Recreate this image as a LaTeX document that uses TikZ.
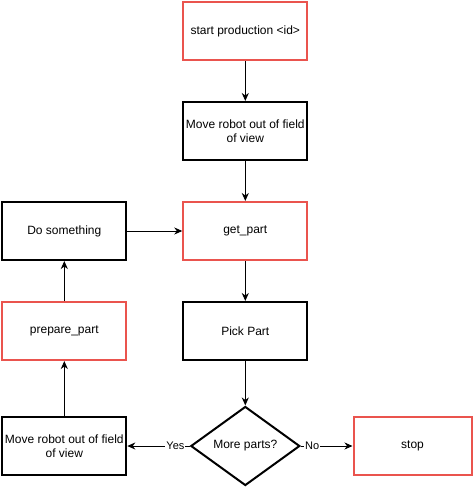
\documentclass[tikz,border=0pt]{standalone}
\usepackage{fontspec}
\setmainfont{Liberation Sans}
\usetikzlibrary{arrows.meta,shapes.geometric}
\definecolor{softred}{RGB}{234,84,78}

\begin{document}
\begin{tikzpicture}[x=1pt,y=-1pt,
  font=\fontsize{12}{14}\selectfont,
  box/.style={draw=black,line width=2pt,minimum width=124pt,minimum height=58pt,align=center,inner sep=2pt},
  redbox/.style={box,draw=softred},
  decision/.style={draw=black,line width=2pt,diamond,aspect=1.375,minimum width=109pt,minimum height=79pt,inner sep=0pt},
  flow/.style={-{Stealth[length=8pt,width=7pt,inset=2.5pt]},line width=1pt},
  lbl/.style={fill=white,inner sep=1pt,font=\fontsize{11}{13}\selectfont}]
  \useasboundingbox (0,0) rectangle (473,487);
  % main column
  \node[redbox] (start) at (245.3,31.5) {start production <id>};
  \node[box] (clear1) at (245.3,131) {Move robot out of field\\of view};
  \node[redbox] (getpart) at (245.3,231) {get\_part};
  \node[box] (pick) at (245.3,331) {Pick Part};
  \node[decision] (more) at (245.3,446) {More parts?};
  % left column
  \node[box] (dosth) at (64.3,231) {Do something};
  \node[redbox] (prepare) at (64.3,331) {prepare\_part};
  \node[box] (clear2) at (64.3,446) {Move robot out of field\\of view};
  % right
  \node[redbox,minimum width=118pt] (stop) at (412.5,446) {stop};
  % connectors
  \draw[flow] (start) -- (clear1);
  \draw[flow] (clear1) -- (getpart);
  \draw[flow] (getpart) -- (pick);
  \draw[flow] (pick) -- (more);
  \draw[flow] (more) -- node[lbl,pos=0.23] {Yes} (clear2);
  \draw[flow] (more) -- node[lbl,pos=0.22] {No} (stop);
  \draw[flow] (clear2) -- (prepare);
  \draw[flow] (prepare) -- (dosth);
  \draw[flow] (dosth) -- (getpart);
\end{tikzpicture}
\end{document}
